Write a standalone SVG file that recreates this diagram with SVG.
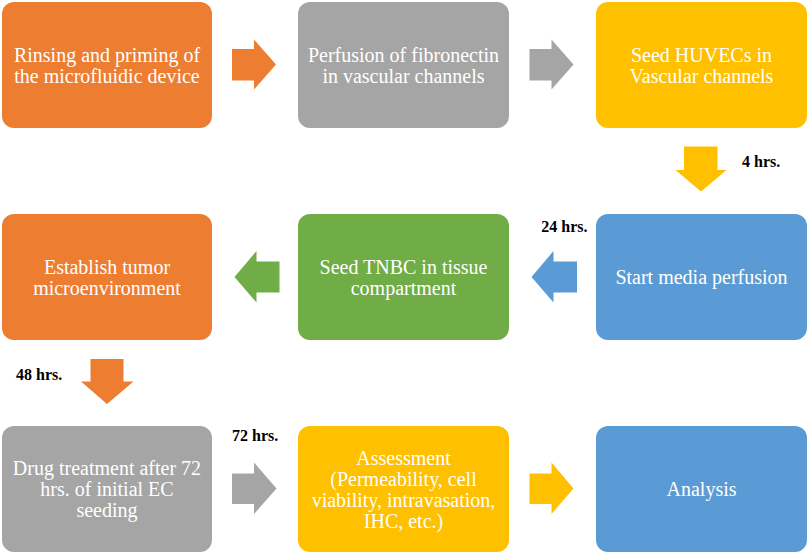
<svg xmlns="http://www.w3.org/2000/svg" width="809" height="554" viewBox="0 0 809 554">
<style>
.box text{font-family:"Liberation Serif","Times New Roman",serif;font-size:20px;fill:#fff;text-anchor:middle}
.lbl{font-family:"Liberation Serif","Times New Roman",serif;font-size:16px;font-weight:bold;fill:#000}
.or{fill:#ED7D31}.gr{fill:#A5A5A5}.ye{fill:#FFC000}.bl{fill:#5B9BD5}.gn{fill:#70AD47}
</style>
<rect width="809" height="554" fill="#fff"/>
<g id="n1" class="box"><rect class="or" x="2" y="2" width="210" height="126" rx="12"/><text x="107" y="61.5">Rinsing and priming of</text><text x="107" y="82.5">the microfluidic device</text></g>
<g id="n2" class="box"><rect class="gr" x="298" y="2" width="211" height="126" rx="12"/><text x="403.5" y="61.5">Perfusion of fibronectin</text><text x="403.5" y="82.5">in vascular channels</text></g>
<g id="n3" class="box"><rect class="ye" x="596" y="2" width="211" height="126" rx="12"/><text x="701.5" y="61.5">Seed HUVECs in</text><text x="701.5" y="82.5">Vascular channels</text></g>
<g id="n4" class="box"><rect class="or" x="2" y="214" width="210" height="126" rx="12"/><text x="107" y="273.5">Establish tumor</text><text x="107" y="294.5">microenvironment</text></g>
<g id="n5" class="box"><rect class="gn" x="298" y="214" width="211" height="126" rx="12"/><text x="403.5" y="273.5">Seed TNBC in tissue</text><text x="403.5" y="294.5">compartment</text></g>
<g id="n6" class="box"><rect class="bl" x="596" y="214" width="211" height="126" rx="12"/><text x="701.5" y="284">Start media perfusion</text></g>
<g id="n7" class="box"><rect class="gr" x="2" y="426" width="210" height="126" rx="12"/><text x="107" y="475">Drug treatment after 72</text><text x="107" y="496">hrs. of initial EC</text><text x="107" y="517">seeding</text></g>
<g id="n8" class="box"><rect class="ye" x="298" y="426" width="211" height="126" rx="12"/><text x="403.5" y="464.5">Assessment</text><text x="403.5" y="485.5">(Permeability, cell</text><text x="403.5" y="506.5">viability, intravasation,</text><text x="403.5" y="527.5">IHC, etc.)</text></g>
<g id="n9" class="box"><rect class="bl" x="596" y="426" width="211" height="126" rx="12"/><text x="701.5" y="496">Analysis</text></g>
<g id="connectors">
<polygon class="or" points="232,49 254,49 254,39.5 276,64.5 254,89.5 254,80.5 232,80.5"/>
<polygon class="gr" points="529.5,49 551.5,49 551.5,39.5 573.5,64.5 551.5,89.5 551.5,80.5 529.5,80.5"/>
<polygon class="ye" points="684,146.5 717.5,146.5 717.5,170 726.5,170 701,191.5 675.5,170 684,170"/>
<polygon class="gn" points="279.5,261.5 279.5,292.5 256.5,292.5 256.5,302.5 234.5,277 256.5,251 256.5,261.5"/>
<polygon class="bl" points="577,261.5 577,292.5 553.5,292.5 553.5,302.5 531.5,277 553.5,251 553.5,261.5"/>
<polygon class="or" points="90.5,359 123.5,359 123.5,381.5 133.5,381.5 107,404 81,381.5 90.5,381.5"/>
<polygon class="gr" points="232,473.5 254,473.5 254,462.5 276.5,488.5 254,514 254,504 232,504"/>
<polygon class="ye" points="529.5,473.5 551.5,473.5 551.5,462.5 573.5,488.5 551.5,514 551.5,504 529.5,504"/>
<text class="lbl" x="742" y="167">4 hrs.</text>
<text class="lbl" x="587.5" y="232" text-anchor="end">24 hrs.</text>
<text class="lbl" x="16" y="380">48 hrs.</text>
<text class="lbl" x="232" y="441">72 hrs.</text>
</g>
</svg>
